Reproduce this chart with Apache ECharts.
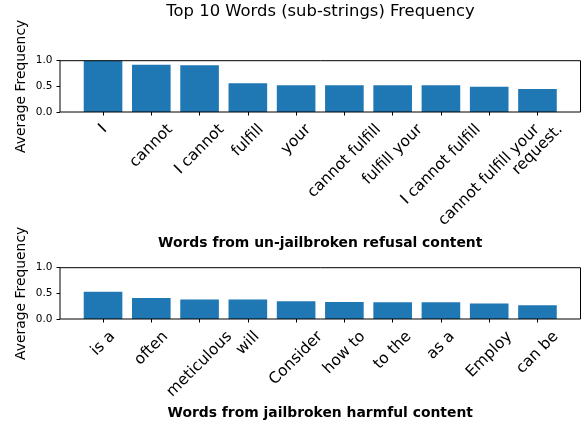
<!DOCTYPE html>
<html>
<head>
<meta charset="utf-8">
<script src="https://cdn.jsdelivr.net/npm/echarts@6/dist/echarts.min.js"></script>
<style>
  html, body { margin: 0; padding: 0; background: #fff; }
  #chart { width: 585px; height: 425px; }
</style>
</head>
<body>
<div id="chart"></div>
<script>
// Top n-gram frequencies in refusal vs. harmful responses
const refusalWords = ['I', 'cannot', 'I cannot', 'fulfill', 'your', 'cannot fulfill',
  'fulfill your', 'I cannot fulfill', 'cannot fulfill your', 'request.'];
const refusalFreq = [1.0, 0.92, 0.91, 0.56, 0.52, 0.52, 0.52, 0.52, 0.49, 0.45];

const harmfulWords = ['is a', 'often', 'meticulous', 'will', 'Consider', 'how to',
  'to the', 'as a', 'Employ', 'can be'];
const harmfulFreq = [0.53, 0.41, 0.38, 0.38, 0.345, 0.33, 0.325, 0.325, 0.30, 0.27];

const yTicks = [0, 0.5, 1.0];

const chartTitle = 'Top 10 Words (sub-strings) Frequency';
const yLabel = 'Average Frequency';
const xLabelTop = 'Words from un-jailbroken refusal content';
const xLabelBottom = 'Words from jailbroken harmful content';

const FONT = 'DejaVu Sans';
const TICK_FS = 15.5;
const BAR_COLOR = '#1f77b4';

// Rotated tick labels are centred on their tick (bounding-box centre):
// each label is a rich token padded in proportion to its own length,
// which slides the rotated text straight down below its tick.
const measureCtx = document.createElement('canvas').getContext('2d');
measureCtx.font = TICK_FS + 'px "' + FONT + '"';
function tickRich(words) {
  const rich = {};
  words.forEach(function (w, i) {
    const L = measureCtx.measureText(w).width;
    const P = (L + TICK_FS) / 2;
    rich['t' + i] = {
      fontFamily: FONT, fontSize: TICK_FS, color: '#000',
      padding: [P, P, 0, 0]
    };
  });
  return rich;
}

// Axes box geometry (frame) and the inner band area holding the categories
const frameLeft = 60, frameRight = 4.5, plotH = 51.3;
const innerLeft = 78.9, innerRight = 23.4;
const panels = [
  { top: 60.7, words: refusalWords, values: refusalFreq, xname: xLabelTop, nameGap: 124 },
  { top: 267.7, words: harmfulWords, values: harmfulFreq, xname: xLabelBottom, nameGap: 87.5 }
];

const grid = [], xAxis = [], yAxis = [], series = [];
panels.forEach(function (p, i) {
  // frame grid (carries the y axis and the box)
  grid.push({
    left: frameLeft, right: frameRight, top: p.top, height: plotH,
    show: true, borderColor: '#000', borderWidth: 1, backgroundColor: 'transparent',
    outerBoundsMode: 'none', containLabel: false, z: 3
  });
  // band grid (carries the category axis and bars)
  grid.push({
    left: innerLeft, right: innerRight, top: p.top, height: plotH,
    outerBoundsMode: 'none', containLabel: false
  });
  const fg = 2 * i, bg = 2 * i + 1;
  xAxis.push({ gridIndex: fg, type: 'value', min: 0, max: 1, show: false });
  yAxis.push({
    gridIndex: fg, type: 'value', min: yTicks[0], max: yTicks[yTicks.length - 1],
    interval: yTicks[1] - yTicks[0],
    axisLine: { show: false },
    axisTick: { show: true, length: 3.5, lineStyle: { color: '#000', width: 1 } },
    splitLine: { show: false },
    axisLabel: {
      fontFamily: FONT, fontSize: 10.5, color: '#000', margin: 7.5,
      formatter: function (v) { return v.toFixed(1); }
    },
    name: yLabel, nameLocation: 'middle', nameGap: 31.5, nameMoveOverlap: false,
    nameTextStyle: { fontFamily: FONT, fontSize: 13.9, color: '#000' }
  });
  xAxis.push({
    gridIndex: bg, type: 'category', data: p.words,
    boundaryGap: true,
    axisLine: { show: false },
    axisTick: { show: true, alignWithLabel: true, length: 3.5, lineStyle: { color: '#000', width: 1 } },
    axisLabel: {
      interval: 0, rotate: 45, align: 'center', verticalAlign: 'middle', margin: 9.7,
      fontFamily: FONT, fontSize: TICK_FS, color: '#000', hideOverlap: false,
      formatter: function (v, idx) { return '{t' + idx + '|' + v + '}'; },
      rich: tickRich(p.words)
    },
    name: p.xname, nameLocation: 'middle', nameGap: p.nameGap, nameMoveOverlap: false,
    nameTextStyle: { fontFamily: FONT, fontSize: 13.9, fontWeight: 'bold', color: '#000' }
  });
  yAxis.push({ gridIndex: bg, type: 'value', min: 0, max: 1, show: false });
  series.push({
    type: 'bar', xAxisIndex: i * 2 + 1, yAxisIndex: i * 2 + 1,
    data: p.values, barWidth: '80%',
    itemStyle: { color: BAR_COLOR }, animation: false
  });
});

const chart = echarts.init(document.getElementById('chart'), null, { renderer: 'canvas' });
chart.setOption({
  animation: false,
  backgroundColor: '#fff',
  title: {
    text: chartTitle, left: 320.5, top: 4, textAlign: 'center', padding: 0,
    textStyle: { fontFamily: FONT, fontSize: 16.4, fontWeight: 'normal', color: '#000' }
  },
  grid: grid, xAxis: xAxis, yAxis: yAxis, series: series
});
</script>
</body>
</html>
